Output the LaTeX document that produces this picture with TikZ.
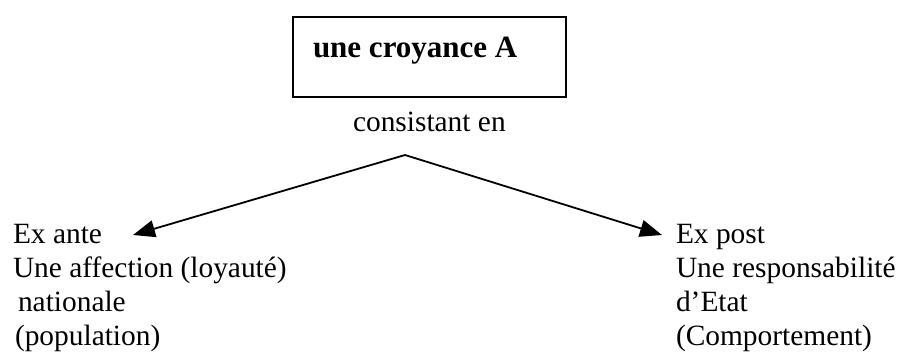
\documentclass[tikz,border=0pt]{standalone}
\usepackage{fontspec}
\setmainfont{Liberation Serif}
\usetikzlibrary{arrows.meta}
\newcommand\mybodyfont{\fontsize{29.4}{34}\selectfont}
\begin{document}
\begin{tikzpicture}[x=1pt,y=-1pt,
  body/.style={inner sep=0pt,outer sep=0pt,font=\mybodyfont},
  conn/.style={line width=1.8pt,-{Triangle[length=22pt,width=17pt]}}]
\useasboundingbox (0,0) rectangle (901,359);
\node[draw,line width=2pt,minimum width=273pt,minimum height=80pt,inner sep=0pt,anchor=north west] (box) at (292,16) {};
\node[body,font=\fontsize{31}{31}\selectfont\bfseries,anchor=base west] (title) at (313,57) {une croyance A};
\node[body,anchor=base west] (cons) at (353,131) {consistant en};
\coordinate (apex) at (405,155);
\coordinate (ltip) at (133,235);
\coordinate (rtip) at (662,235);
\node[body,align=left,anchor=base west] (left) at (13,345) {Ex ante\\Une affection (loyauté)\\\hspace*{5pt}nationale\\\hspace*{2pt}(population)};
\node[body,align=left,anchor=base west] (right) at (676,345) {Ex post\\Une responsabilité\\d’Etat\\(Comportement)};
\draw[conn] (apex) -- (ltip);
\draw[conn] (apex) -- (rtip);
\end{tikzpicture}
\end{document}
